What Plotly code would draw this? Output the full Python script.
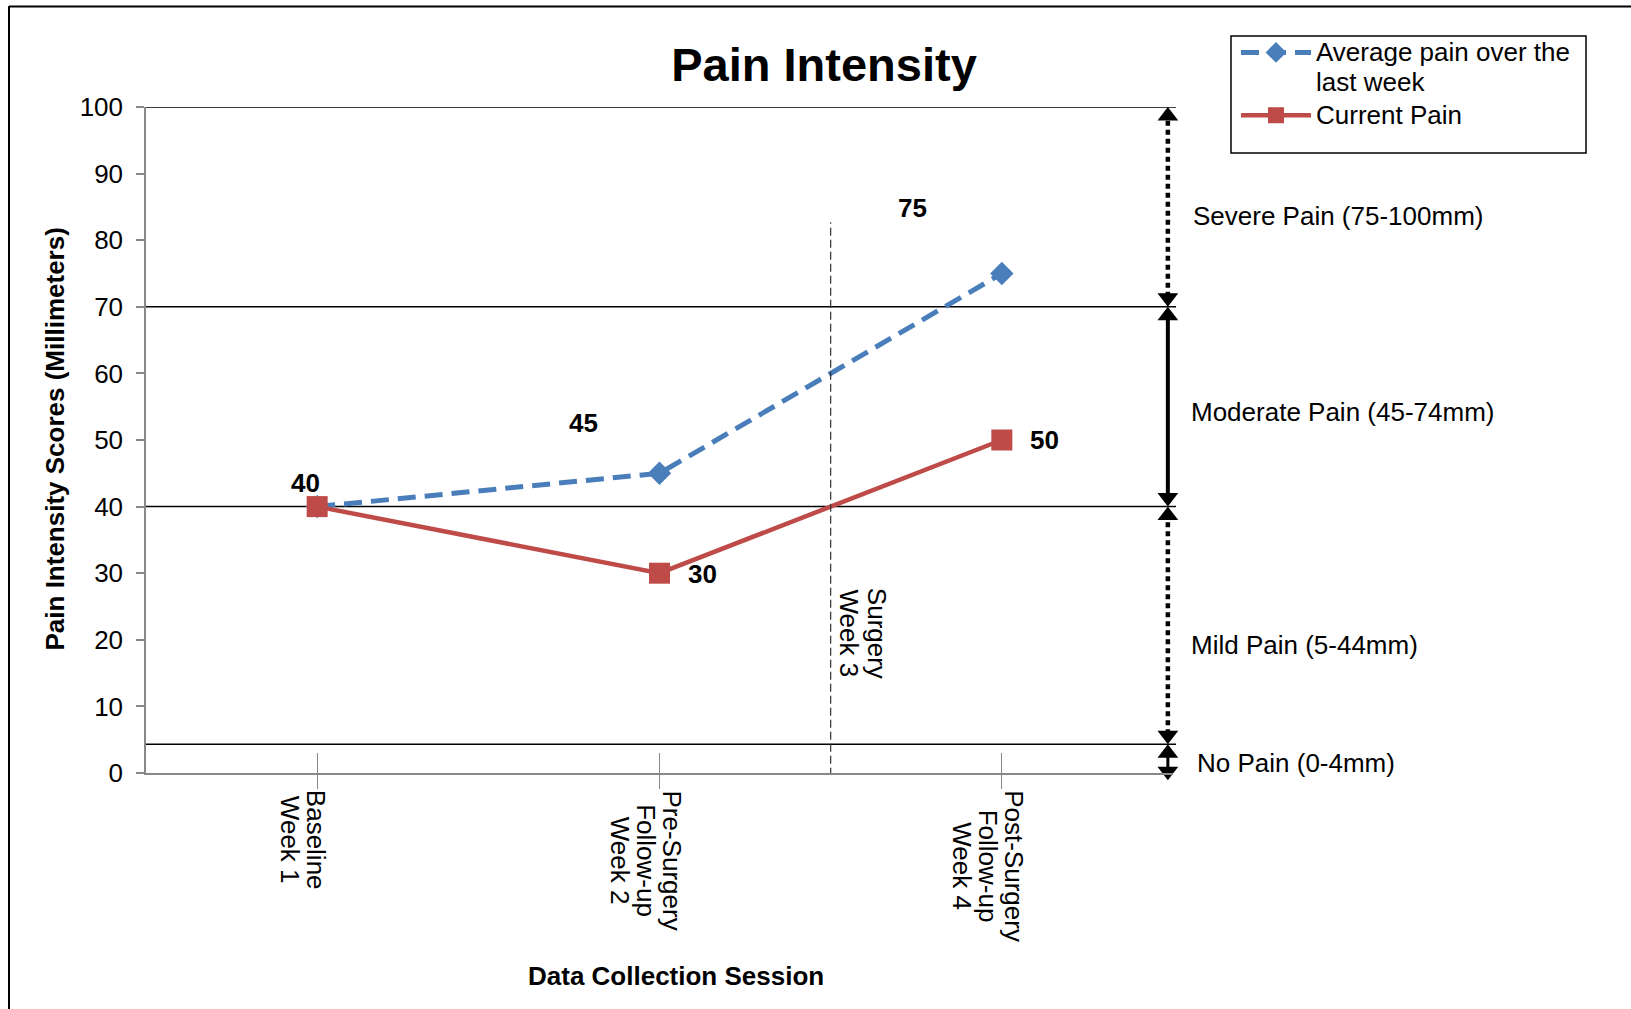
import plotly.graph_objects as go

# ---------------- data ----------------
x_pos = [0, 1, 2]
tick_labels = [["Baseline", "Week 1"],
               ["Pre-Surgery", "Follow-up", "Week 2"],
               ["Post-Surgery", "Follow-up", "Week 4"]]
avg_pain = [40, 45, 75]
current_pain = [40, 30, 50]
avg_name = ["Average pain over the", "last week"]
cur_name = ["Current Pain"]
surgery_x = 1.5
surgery_top = 82.7
surgery_label = ["Surgery", "Week 3"]
y_ticks = list(range(0, 101, 10))
band_lines = [4.3, 40, 70, 100]
band_labels = ["Severe Pain (75-100mm)", "Moderate Pain (45-74mm)",
               "Mild Pain (5-44mm)", "No Pain (0-4mm)"]
band_label_y = [0.836, 0.5416, 0.1917, 0.0153]
band_label_x = [1.0175, 1.0156, 1.0156, 1.0214]
# arrow spans (low tip, high tip, dash, width)
arrow_spans = [(70, 100, "5px,4px", 4.5),
               (40, 70, "solid", 4),
               (4.3, 40, "5px,4px", 4.5),
               (-1.1, 4.3, "solid", 3)]

# label offsets (pixels) for data labels
avg_label_shift = [(-12, 24), (-76, 50), (-89, 66)]
cur_label_shift = [None, (43, -1), (43, 0)]

FONT = "Liberation Sans, Arial, Helvetica, sans-serif"
BLUE = "#4A7EBB"
RED = "#BE4B48"
GRAY = "#888888"

W, H = 1631, 1009
L, R, T, B = 146, 458, 107, 236
PH = H - T - B
PW = W - L - R
PX_PER_Y = PH / 100.0


def py(pix):
    """pixel y -> paper y"""
    return (H - B - pix) / PH


def px(pix):
    return (pix - L) / PW


def tight(lines, size=26):
    return "<br>".join("<span style='font-size:%dpx'>%s</span>" % (size, l) for l in lines)


fig = go.Figure()

fig.add_trace(go.Scatter(
    x=x_pos, y=avg_pain, mode="lines+markers", name=tight(avg_name),
    line=dict(color=BLUE, width=5, dash="18px,9px"),
    marker=dict(symbol="diamond", size=18, color=BLUE),
    hoverinfo="skip"))
fig.add_trace(go.Scatter(
    x=x_pos, y=current_pain, mode="lines+markers", name=tight(cur_name),
    line=dict(color=RED, width=4.5),
    marker=dict(symbol="square", size=21, color=RED),
    hoverinfo="skip"))

# empty trace to anchor the secondary (inside-tick) x axis
fig.add_trace(go.Scatter(x=[], y=[], xaxis="x2", showlegend=False, hoverinfo="skip"))

shapes = []
annotations = []

# horizontal band lines
for v in band_lines:
    shapes.append(dict(type="line", xref="paper", yref="y", x0=0, x1=1.003,
                       y0=v, y1=v, line=dict(color="black", width=1.5), layer="below"))

# surgery dashed line
shapes.append(dict(type="line", xref="x", yref="y", x0=surgery_x, x1=surgery_x,
                   y0=-0.4, y1=surgery_top, line=dict(color="#333333", width=1.2, dash="8px,4px")))

# arrows on the right
ARROW_X = 2.485
head = 18
tip_off = (head / 2) / PX_PER_Y
stem_off = 10 / PX_PER_Y
head_x, head_y, head_sym = [], [], []
for lo, hi, dash, wd in arrow_spans:
    shapes.append(dict(type="line", xref="x", yref="y", x0=ARROW_X, x1=ARROW_X,
                       y0=lo + stem_off, y1=hi - stem_off,
                       line=dict(color="black", width=wd, dash=dash)))
    head_x += [ARROW_X, ARROW_X]
    head_y += [hi - tip_off, lo + tip_off]
    head_sym += ["triangle-up", "triangle-down"]

fig.add_trace(go.Scatter(x=head_x, y=head_y, mode="markers", showlegend=False,
                         marker=dict(symbol=head_sym, size=head, color="black", line=dict(width=0)),
                         cliponaxis=False, hoverinfo="skip"))

# outer frame
shapes.append(dict(type="line", xref="paper", yref="paper", x0=px(9), x1=px(9),
                   y0=py(6), y1=py(H + 5), line=dict(color="black", width=2)))
shapes.append(dict(type="line", xref="paper", yref="paper", x0=px(9), x1=px(W + 5),
                   y0=py(6.5), y1=py(6.5), line=dict(color="black", width=2)))

# legend box
shapes.append(dict(type="rect", xref="paper", yref="paper", x0=px(1231), x1=px(1586),
                   y0=py(153), y1=py(36), line=dict(color="black", width=1.5)))

fig.update_layout(shapes=shapes)

# band labels
for txt, xx, yy in zip(band_labels, band_label_x, band_label_y):
    annotations.append(dict(text=txt, xref="paper", yref="paper", x=xx, y=yy,
                            xanchor="left", yanchor="middle", showarrow=False,
                            font=dict(family=FONT, size=26, color="black")))

# data labels
for xv, yv, sh in zip(x_pos, avg_pain, avg_label_shift):
    if sh is None:
        continue
    annotations.append(dict(text=str(yv), x=xv, y=yv, xref="x", yref="y",
                            xshift=sh[0], yshift=sh[1], showarrow=False,
                            font=dict(family=FONT, size=26, color="black", weight="bold")))
for xv, yv, sh in zip(x_pos, current_pain, cur_label_shift):
    if sh is None:
        continue
    annotations.append(dict(text=str(yv), x=xv, y=yv, xref="x", yref="y",
                            xshift=sh[0], yshift=sh[1], showarrow=False,
                            font=dict(family=FONT, size=26, color="black", weight="bold")))

# x tick labels (rotated, tight line spacing)
for xv, lines in zip(x_pos, tick_labels):
    annotations.append(dict(text=tight(lines), x=xv, xref="x", y=py(788), yref="paper",
                            xshift=-14, xanchor="center", yanchor="top", textangle=90,
                            align="center", showarrow=False,
                            font=dict(family=FONT, size=20, color="black")))

# surgery label
annotations.append(dict(text=tight(surgery_label), x=surgery_x, xref="x", y=py(633.5), yref="paper",
                        xshift=32, xanchor="center", yanchor="middle", textangle=90,
                        align="center", showarrow=False,
                        font=dict(family=FONT, size=22, color="black")))

# axis titles
annotations.append(dict(text="Pain Intensity Scores (Millimeters)", xref="paper", yref="paper",
                        x=px(54), y=py(439.5), textangle=-90, showarrow=False,
                        xanchor="center", yanchor="middle",
                        font=dict(family=FONT, size=26, color="black", weight="bold")))
annotations.append(dict(text="Data Collection Session", xref="paper", yref="paper",
                        x=px(676), y=py(976), showarrow=False,
                        xanchor="center", yanchor="middle",
                        font=dict(family=FONT, size=26, color="black", weight="bold")))

fig.update_layout(
    width=W, height=H,
    margin=dict(l=L, r=R, t=T, b=B, pad=0),
    paper_bgcolor="white", plot_bgcolor="white",
    font=dict(family=FONT, size=26, color="black"),
    title=dict(text="Pain Intensity", xref="container", yref="container",
               x=824 / W, y=1 - 64.5 / H, xanchor="center", yanchor="middle",
               font=dict(family=FONT, size=47, color="black", weight="bold")),
    xaxis=dict(range=[-0.5, 2.5], tickvals=x_pos, showticklabels=False,
               ticks="outside", ticklen=14, tickcolor=GRAY, tickwidth=1,
               showline=True, linecolor=GRAY, linewidth=1.5,
               showgrid=False, zeroline=False, fixedrange=True),
    xaxis2=dict(range=[-0.5, 2.5], tickvals=x_pos, showticklabels=False,
                overlaying="x", anchor="y", side="bottom",
                ticks="inside", ticklen=20, tickcolor=GRAY, tickwidth=1,
                showline=False, showgrid=False, zeroline=False),
    yaxis=dict(range=[0, 100], tickvals=y_ticks, ticks="outside", ticklen=8,
               tickcolor=GRAY, tickwidth=1.5, showline=True, linecolor=GRAY, linewidth=1.5,
               showgrid=False, zeroline=False, ticklabelstandoff=8,
               tickfont=dict(family=FONT, size=26, color="black")),
    legend=dict(x=px(1236), y=py(31), xanchor="left", yanchor="top",
                xref="paper", yref="paper", valign="top", itemwidth=70,
                bgcolor="rgba(0,0,0,0)", borderwidth=0, tracegroupgap=0,
                font=dict(family=FONT, size=23, color="black")),
    annotations=annotations,
    showlegend=True,
)

fig.write_html("out.html")
